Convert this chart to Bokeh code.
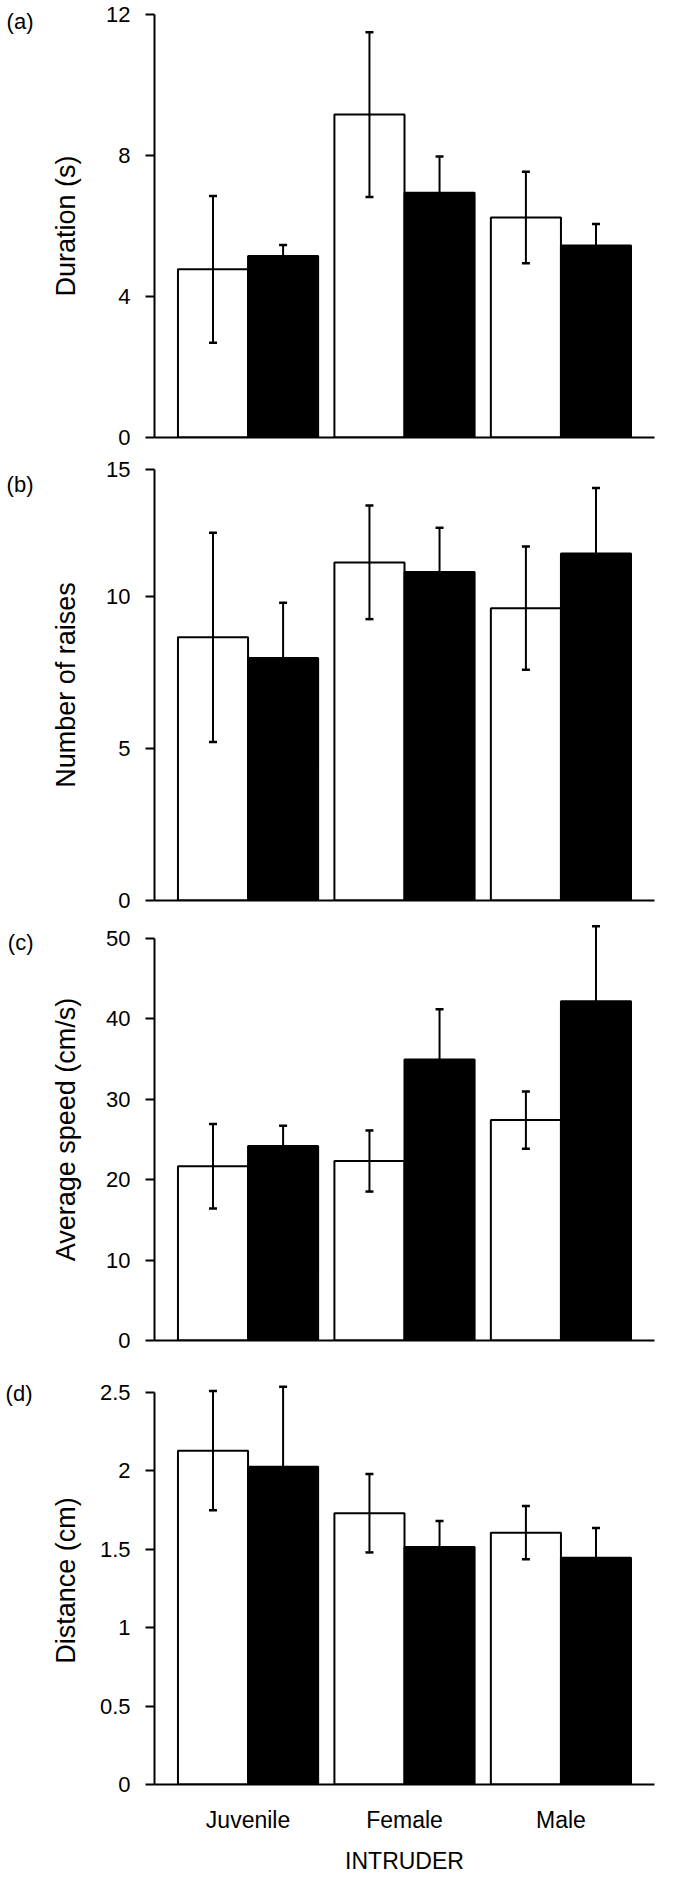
from bokeh.plotting import figure
from bokeh.models import (FactorRange, Range1d, FixedTicker, Whisker, TeeHead,
                          LinearAxis, ColumnDataSource)
from bokeh.transform import dodge
from bokeh.layouts import column
from bokeh.embed import file_html
from bokeh.resources import INLINE

FONT = "Liberation Sans"

# ---------------- data ----------------
categories = ["Juvenile", "Female", "Male"]
x_title = "INTRUDER"

duration_open = [4.77, 9.16, 6.24]
duration_open_err = [2.08, 2.34, 1.30]
duration_filled = [5.15, 6.94, 5.45]
duration_filled_err = [0.31, 1.03, 0.61]

raises_open = [8.67, 11.14, 9.63]
raises_open_err = [3.45, 1.87, 2.03]
raises_filled = [7.99, 10.82, 11.43]
raises_filled_err = [1.82, 1.46, 2.16]

speed_open = [21.67, 22.33, 27.42]
speed_open_err = [5.25, 3.80, 3.56]
speed_filled = [24.19, 34.96, 42.21]
speed_filled_err = [2.53, 6.26, 9.32]

distance_open = [2.127, 1.729, 1.605]
distance_open_err = [0.38, 0.25, 0.17]
distance_filled = [2.025, 1.514, 1.445]
distance_filled_err = [0.51, 0.165, 0.19]

a_ticks = [0, 4, 8, 12]
a_tick_labels = ["0", "4", "8", "12"]
b_ticks = [0, 5, 10, 14.2]
b_tick_labels = ["0", "5", "10", "15"]
c_ticks = [0, 10, 20, 30, 40, 50]
c_tick_labels = ["0", "10", "20", "30", "40", "50"]
d_ticks = [0, 0.5, 1, 1.5, 2, 2.5]
d_tick_labels = ["0", "0.5", "1", "1.5", "2", "2.5"]

BAR_W = 0.448
OFF = 0.224
PAD = 0.098


def make_panel(tag, ylabel, o_vals, o_err, f_vals, f_err, ticks, tick_labels,
               y_end, bounds, tag_y, title_standoff, height, top, bottom,
               show_x):
    x_range = FactorRange(factors=categories, range_padding=PAD,
                          range_padding_units="absolute")
    p = figure(x_range=x_range, y_range=Range1d(0, y_end), width=659,
               height=height, min_border_left=154, min_border_right=5,
               min_border_top=top, min_border_bottom=bottom,
               output_backend="svg", toolbar_location=None, tools="")
    p.xgrid.visible = False
    p.ygrid.visible = False
    p.outline_line_color = None
    p.background_fill_color = "white"
    p.border_fill_color = "white"

    src = ColumnDataSource(dict(
        cat=categories,
        o=o_vals, f=f_vals,
        o_lo=[v - e for v, e in zip(o_vals, o_err)],
        o_hi=[v + e for v, e in zip(o_vals, o_err)],
        f_lo=[v - e for v, e in zip(f_vals, f_err)],
        f_hi=[v + e for v, e in zip(f_vals, f_err)],
    ))

    p.vbar(x=dodge("cat", -OFF, range=p.x_range), top="o", bottom=0,
           width=BAR_W, source=src, fill_color="white", line_color="black",
           line_width=2)
    p.vbar(x=dodge("cat", OFF, range=p.x_range), top="f", bottom=0,
           width=BAR_W, source=src, fill_color="black", line_color="black",
           line_width=2)

    for off, lo, hi in ((-OFF, "o_lo", "o_hi"), (OFF, "f_lo", "f_hi")):
        w = Whisker(base=dodge("cat", off, range=p.x_range), lower=lo, upper=hi,
                    source=src, line_color="black", line_width=2,
                    upper_head=TeeHead(size=8, line_width=2.5, line_color="black"),
                    lower_head=TeeHead(size=8, line_width=2.5, line_color="black"),
                    level="overlay")
        p.add_layout(w)

    ya = p.yaxis[0]
    ya.ticker = FixedTicker(ticks=ticks)
    ya.major_label_overrides = {t: l for t, l in zip(ticks, tick_labels)}
    ya.axis_line_width = 2
    ya.axis_line_color = "black"
    ya.major_tick_line_width = 2
    ya.major_tick_line_color = "black"
    ya.major_tick_out = 9
    ya.major_tick_in = 0
    ya.minor_tick_line_color = None
    ya.major_label_text_font = FONT
    ya.major_label_text_font_size = "22px"
    ya.major_label_text_color = "black"
    ya.major_label_standoff = 15
    ya.axis_label = ylabel
    ya.axis_label_text_font = FONT
    ya.axis_label_text_font_size = "27px"
    ya.axis_label_text_font_style = "normal"
    ya.axis_label_text_color = "black"
    ya.axis_label_standoff = title_standoff
    if bounds is not None:
        ya.bounds = bounds

    # panel tag "(a)" etc., drawn as the single label of an outer left axis
    tag_axis = LinearAxis(ticker=FixedTicker(ticks=[tag_y]),
                          major_label_overrides={tag_y: tag},
                          axis_line_color=None, major_tick_line_color=None,
                          minor_tick_line_color=None, major_tick_out=0,
                          major_tick_in=0, major_label_standoff=15,
                          major_label_text_font=FONT,
                          major_label_text_font_size="22px",
                          major_label_text_color="black")
    p.add_layout(tag_axis, "left")

    xa = p.xaxis[0]
    xa.axis_line_width = 2
    xa.axis_line_color = "black"
    xa.major_tick_line_color = None
    xa.minor_tick_line_color = None
    xa.major_tick_out = 0
    xa.major_tick_in = 0
    if show_x:
        xa.major_label_text_font = FONT
        xa.major_label_text_font_size = "23px"
        xa.major_label_text_color = "black"
        xa.major_label_standoff = 22
        xa.axis_label = x_title
        xa.axis_label_text_font = FONT
        xa.axis_label_text_font_size = "23px"
        xa.axis_label_text_font_style = "normal"
        xa.axis_label_text_color = "black"
        xa.axis_label_standoff = 12
    else:
        xa.major_label_text_font_size = "0px"
        xa.major_label_text_color = None
        xa.major_label_standoff = 0
    return p


pa = make_panel("(a)", "Duration (s)", duration_open, duration_open_err,
                duration_filled, duration_filled_err, a_ticks, a_tick_labels,
                12, None, 11.8, 22, 455, 14, 18, False)
pb = make_panel("(b)", "Number of raises", raises_open, raises_open_err,
                raises_filled, raises_filled_err, b_ticks, b_tick_labels,
                14.2, None, 13.69, 22, 459, 14, 14, False)
pc = make_panel("(c)", "Average speed (cm/s)", speed_open, speed_open_err,
                speed_filled, speed_filled_err, c_ticks, c_tick_labels,
                52.5, (0, 50), 49.54, 22, 440, 4, 14, False)
pd_ = make_panel("(d)", "Distance (cm)", distance_open, distance_open_err,
                 distance_filled, distance_filled_err, d_ticks, d_tick_labels,
                 2.6, (0, 2.5), 2.49, 16, 523, 22, 93, True)

layout = column(pa, pb, pc, pd_)
open("out.html", "w").write(file_html(layout, INLINE))
